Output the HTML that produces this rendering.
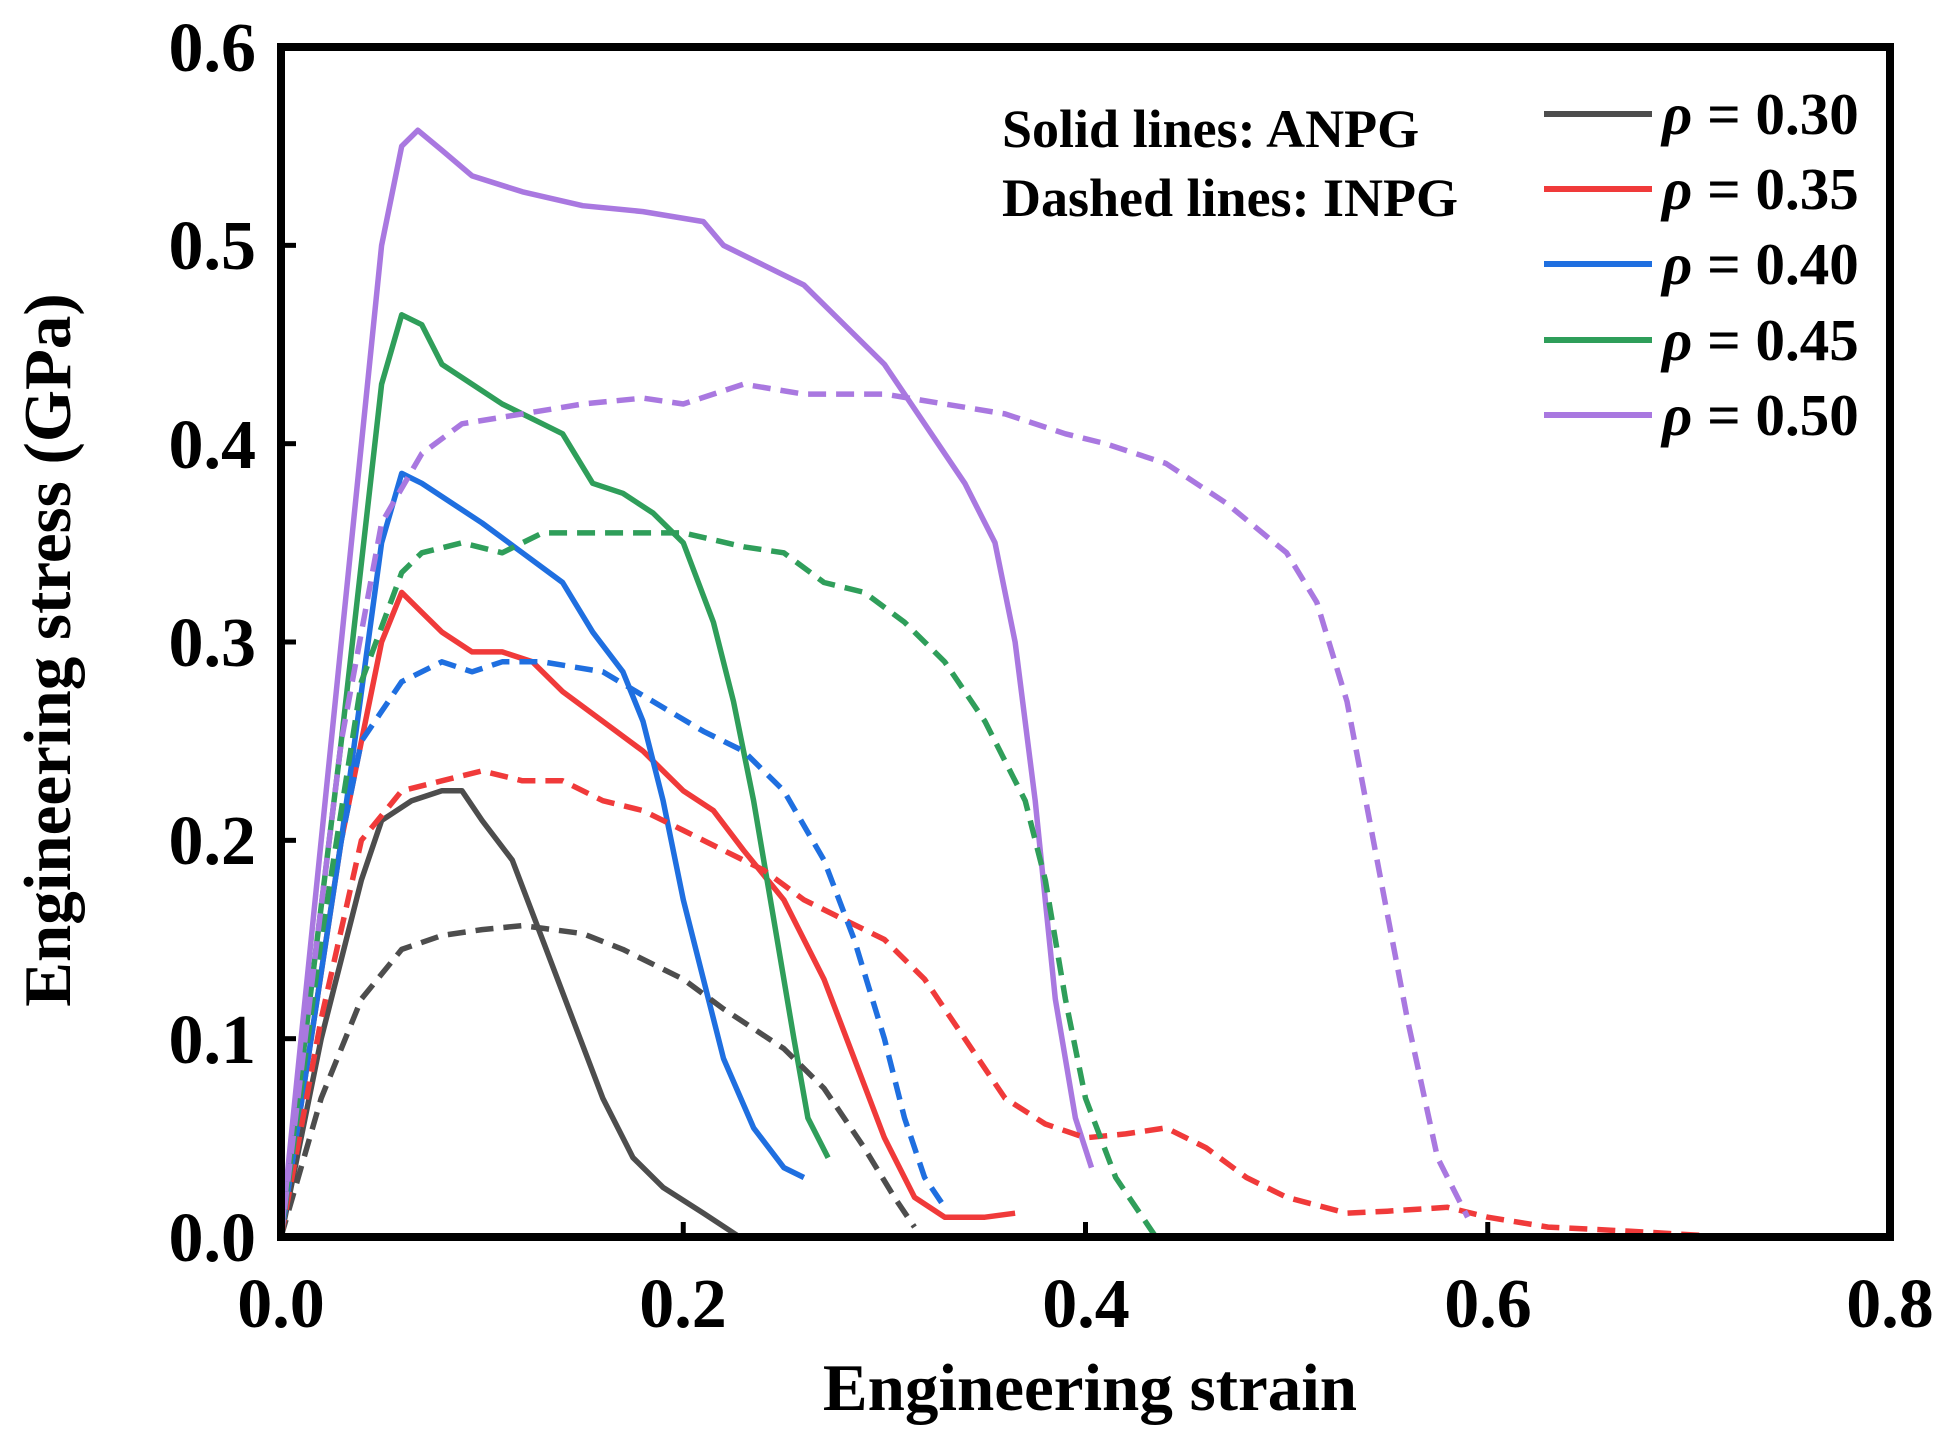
<!DOCTYPE html>
<html><head><meta charset="utf-8"><style>
html,body{margin:0;padding:0;background:#fff;}
svg{display:block;font-family:"Liberation Serif",serif;font-weight:bold;}
</style></head><body>
<svg id="s" width="1950" height="1437" viewBox="0 0 1950 1437" xmlns="http://www.w3.org/2000/svg">
<g id="data" fill="none" stroke-width="5.5" stroke-linejoin="round"></g>
<rect x="281" y="47" width="1609" height="1190" fill="none" stroke="#000" stroke-width="8"/>
<g id="ticks" stroke="#000" stroke-width="5"></g>
<g font-size="70" text-anchor="end">
<text x="256" y="1261">0.0</text><text x="256" y="1063">0.1</text><text x="256" y="864">0.2</text>
<text x="256" y="666">0.3</text><text x="256" y="468">0.4</text><text x="256" y="269">0.5</text><text x="256" y="71">0.6</text>
</g>
<g font-size="70" text-anchor="middle">
<text x="281" y="1327">0.0</text><text x="683" y="1327">0.2</text><text x="1086" y="1327">0.4</text>
<text x="1488" y="1327">0.6</text><text x="1890" y="1327">0.8</text>
</g>
<text x="1090" y="1410" font-size="67" text-anchor="middle">Engineering strain</text>
<text transform="translate(70,650) rotate(-90)" font-size="67" text-anchor="middle">Engineering stress (GPa)</text>
<text x="1002" y="147" font-size="54">Solid lines: ANPG</text>
<text x="1002" y="216" font-size="54">Dashed lines: INPG</text>
<g stroke-width="6">
<line x1="1544" y1="114" x2="1652" y2="114" stroke="#4d4d4d"/>
<line x1="1544" y1="189" x2="1652" y2="189" stroke="#f03a3a"/>
<line x1="1544" y1="264" x2="1652" y2="264" stroke="#1f6fe0"/>
<line x1="1544" y1="340" x2="1652" y2="340" stroke="#2f9e5a"/>
<line x1="1544" y1="415" x2="1652" y2="415" stroke="#a978e0"/>
</g>
<g font-size="59">
<text x="1662" y="134"><tspan font-style="italic">ρ</tspan> = 0.30</text>
<text x="1662" y="209"><tspan font-style="italic">ρ</tspan> = 0.35</text>
<text x="1662" y="284"><tspan font-style="italic">ρ</tspan> = 0.40</text>
<text x="1662" y="360"><tspan font-style="italic">ρ</tspan> = 0.45</text>
<text x="1662" y="435"><tspan font-style="italic">ρ</tspan> = 0.50</text>
</g>
</svg>
<script>
var X=function(x){return 281+x*2011.25},Y=function(y){return 1237-y*1983.3};
var S=[
["#4d4d4d",0,[[0,0],[0.02,0.1],[0.04,0.18],[0.05,0.21],[0.065,0.22],[0.08,0.225],[0.09,0.225],[0.1,0.21],[0.115,0.19],[0.13,0.15],[0.145,0.11],[0.16,0.07],[0.175,0.04],[0.19,0.025],[0.21,0.012],[0.228,0]]],
["#f03a3a",0,[[0,0],[0.03,0.2],[0.05,0.3],[0.06,0.325],[0.07,0.315],[0.08,0.305],[0.095,0.295],[0.11,0.295],[0.125,0.29],[0.14,0.275],[0.16,0.26],[0.18,0.245],[0.2,0.225],[0.215,0.215],[0.23,0.195],[0.25,0.17],[0.27,0.13],[0.285,0.09],[0.3,0.05],[0.315,0.02],[0.33,0.01],[0.35,0.01],[0.365,0.012]]],
["#1f6fe0",0,[[0,0],[0.03,0.2],[0.05,0.35],[0.06,0.385],[0.07,0.38],[0.085,0.37],[0.1,0.36],[0.12,0.345],[0.14,0.33],[0.155,0.305],[0.17,0.285],[0.18,0.26],[0.19,0.22],[0.2,0.17],[0.21,0.13],[0.22,0.09],[0.235,0.055],[0.25,0.035],[0.26,0.03]]],
["#2f9e5a",0,[[0,0],[0.03,0.25],[0.05,0.43],[0.06,0.465],[0.07,0.46],[0.08,0.44],[0.095,0.43],[0.11,0.42],[0.13,0.41],[0.14,0.405],[0.155,0.38],[0.17,0.375],[0.185,0.365],[0.2,0.35],[0.215,0.31],[0.225,0.27],[0.235,0.22],[0.245,0.16],[0.255,0.1],[0.262,0.06],[0.272,0.04]]],
["#a978e0",0,[[0,0],[0.03,0.3],[0.05,0.5],[0.06,0.55],[0.068,0.558],[0.08,0.548],[0.095,0.535],[0.12,0.527],[0.15,0.52],[0.18,0.517],[0.21,0.512],[0.22,0.5],[0.24,0.49],[0.26,0.48],[0.28,0.46],[0.3,0.44],[0.32,0.41],[0.34,0.38],[0.355,0.35],[0.365,0.3],[0.375,0.22],[0.385,0.12],[0.395,0.06],[0.403,0.035]]],
["#4d4d4d",1,[[0,0],[0.02,0.07],[0.04,0.12],[0.06,0.145],[0.08,0.152],[0.1,0.155],[0.12,0.157],[0.15,0.153],[0.17,0.145],[0.2,0.13],[0.22,0.115],[0.25,0.095],[0.27,0.075],[0.29,0.045],[0.305,0.02],[0.315,0.005]]],
["#f03a3a",1,[[0,0],[0.02,0.11],[0.04,0.2],[0.06,0.225],[0.08,0.23],[0.1,0.235],[0.12,0.23],[0.14,0.23],[0.16,0.22],[0.18,0.215],[0.2,0.205],[0.22,0.195],[0.24,0.185],[0.26,0.17],[0.28,0.16],[0.3,0.15],[0.32,0.13],[0.34,0.1],[0.36,0.07],[0.38,0.057],[0.4,0.05],[0.42,0.052],[0.44,0.055],[0.46,0.045],[0.48,0.03],[0.5,0.02],[0.53,0.012],[0.55,0.013],[0.58,0.015],[0.6,0.01],[0.63,0.005],[0.67,0.003],[0.72,0]]],
["#1f6fe0",1,[[0,0],[0.02,0.15],[0.04,0.25],[0.06,0.28],[0.08,0.29],[0.095,0.285],[0.11,0.29],[0.13,0.29],[0.16,0.285],[0.185,0.27],[0.21,0.255],[0.23,0.245],[0.25,0.225],[0.27,0.19],[0.285,0.15],[0.3,0.1],[0.31,0.06],[0.32,0.03],[0.33,0.015]]],
["#2f9e5a",1,[[0,0],[0.02,0.15],[0.04,0.28],[0.06,0.335],[0.07,0.345],[0.09,0.35],[0.11,0.345],[0.13,0.355],[0.16,0.355],[0.2,0.355],[0.23,0.348],[0.25,0.345],[0.27,0.33],[0.29,0.325],[0.31,0.31],[0.33,0.29],[0.35,0.26],[0.37,0.22],[0.38,0.18],[0.39,0.12],[0.4,0.07],[0.415,0.03],[0.435,0]]],
["#a978e0",1,[[0,0],[0.03,0.25],[0.05,0.36],[0.07,0.395],[0.09,0.41],[0.12,0.415],[0.15,0.42],[0.18,0.423],[0.2,0.42],[0.23,0.43],[0.26,0.425],[0.3,0.425],[0.33,0.42],[0.36,0.415],[0.39,0.405],[0.41,0.4],[0.44,0.39],[0.47,0.37],[0.5,0.345],[0.515,0.32],[0.53,0.27],[0.545,0.19],[0.56,0.11],[0.575,0.04],[0.59,0.01]]]
];
var g=document.getElementById('data'),ns="http://www.w3.org/2000/svg";
S.forEach(function(s){var p=document.createElementNS(ns,'polyline');
p.setAttribute('points',s[2].map(function(q){return X(q[0]).toFixed(1)+','+Y(q[1]).toFixed(1)}).join(' '));
p.setAttribute('stroke',s[0]);if(s[1])p.setAttribute('stroke-dasharray','18 10');g.appendChild(p);});
var t=document.getElementById('ticks');
function L(a,b,c,d){var l=document.createElementNS(ns,'line');l.setAttribute('x1',a);l.setAttribute('y1',b);l.setAttribute('x2',c);l.setAttribute('y2',d);t.appendChild(l);}
for(var i=1;i<4;i++){var x=X(i*0.2);L(x,1237,x,1222);}
for(var j=1;j<6;j++){var y=Y(j*0.1);L(281,y,296,y);}
</script>
</body></html>
